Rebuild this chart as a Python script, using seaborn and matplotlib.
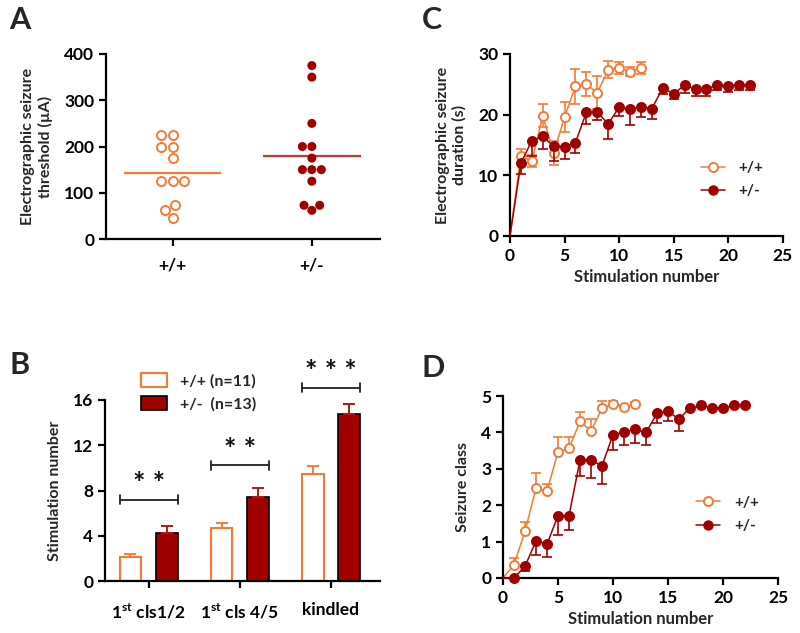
import numpy as np
import pandas as pd
import matplotlib
matplotlib.use("Agg")
import matplotlib.pyplot as plt
from matplotlib.lines import Line2D
from matplotlib.patches import Patch
import seaborn as sns

# --- colours ---
ORANGE = "#F47B35"
DARKRED = "#A00000"
MEANRED = "#C03838"

# --- DATA ---
genotypes = ["+/+", "+/-"]

# A: electrographic seizure threshold per animal (uA)
thr_wt = [225, 225, 200, 200, 175, 125, 125, 125, 73, 62, 45]
thr_het = [375, 350, 250, 200, 200, 175, 150, 150, 150, 125, 73, 73, 62]

# B: stimulation number to reach each milestone (mean, sem)
milestones = ["1$^{\\mathbf{st}}$ cls1/2", "1$^{\\mathbf{st}}$ cls 4/5", "kindled"]
stim_wt = [2.15, 4.7, 9.5]
stim_wt_sem = [0.24, 0.4, 0.65]
stim_het = [4.27, 7.42, 14.73]
stim_het_sem = [0.6, 0.77, 0.94]
sig_labels = ["* *", "* *", "* * *"]

# C: electrographic seizure duration (s) per stimulation
stim_n_wt = np.arange(1, 13)
dur_wt = [13.2, 12.3, 19.8, 13.7, 19.6, 24.7, 25.0, 23.6, 27.4, 27.7, 27.1, 27.7]
dur_wt_sem = [1.2, 1.0, 1.9, 2.0, 2.5, 2.9, 2.0, 2.7, 1.4, 1.0, 0.8, 1.0]
stim_n_het = np.arange(1, 23)
dur_het = [12.0, 15.7, 16.4, 14.8, 14.7, 15.4, 20.4, 20.4, 18.5, 21.2, 20.9,
           21.3, 21.0, 24.4, 23.4, 24.9, 24.2, 24.2, 24.9, 24.8, 24.9, 24.9]
dur_het_sem = [1.8, 2.5, 2.0, 2.4, 2.0, 1.8, 1.9, 1.3, 2.5, 1.4, 2.6,
               1.7, 1.7, 1.0, 0.9, 1.3, 1.1, 1.1, 0.9, 1.0, 0.9, 0.9]

# D: seizure class per stimulation
class_wt = [0.37, 1.28, 2.47, 2.38, 3.47, 3.56, 4.30, 4.04, 4.66, 4.78, 4.69, 4.78]
class_wt_sem = [0.18, 0.25, 0.41, 0.21, 0.41, 0.30, 0.27, 0.32, 0.20, 0.08, 0.06, 0.06]
class_het = [0.0, 0.32, 1.02, 0.93, 1.71, 1.71, 3.24, 3.24, 3.08, 3.94, 4.01,
             4.08, 4.00, 4.52, 4.58, 4.36, 4.68, 4.74, 4.68, 4.68, 4.74, 4.74]
class_het_sem = [0.0, 0.14, 0.38, 0.36, 0.52, 0.39, 0.43, 0.48, 0.51, 0.41, 0.36,
                 0.36, 0.35, 0.26, 0.26, 0.33, 0.05, 0.04, 0.05, 0.05, 0.04, 0.04]

# --- STYLE ---
sns.set_style("ticks")
plt.rcParams.update({
    "font.family": ["Lato", "DejaVu Sans"],
    "font.weight": "bold",
    "axes.labelweight": "bold",
    "axes.labelsize": 11.5,
    "xtick.labelsize": 12.5,
    "ytick.labelsize": 12.5,
    "axes.linewidth": 1.6,
    "xtick.major.width": 1.6,
    "ytick.major.width": 1.6,
    "xtick.major.size": 5,
    "ytick.major.size": 5,
    "xtick.color": "black",
    "ytick.color": "black",
    "axes.edgecolor": "black",
    "mathtext.fontset": "custom",
    "mathtext.rm": "Lato:bold",
    "mathtext.bf": "Lato:bold",
})

fig = plt.figure(figsize=(8, 6.33), dpi=100)
axA = fig.add_axes([0.1325, 0.6224, 0.3425, 0.2923])
axC = fig.add_axes([0.6375, 0.6272, 0.341, 0.2875])
axB = fig.add_axes([0.13125, 0.0821, 0.34375, 0.286])
axD = fig.add_axes([0.62875, 0.0869, 0.34375, 0.2875])

for ax in (axA, axB, axC, axD):
    sns.despine(ax=ax)

# --- A: scatter of thresholds with mean lines ---
df_a = pd.DataFrame({
    "genotype": ["+/+"] * len(thr_wt) + ["+/-"] * len(thr_het),
    "threshold": thr_wt + thr_het,
})
sns.swarmplot(data=df_a, x="genotype", y="threshold", hue="genotype", order=genotypes,
              palette={"+/+": ORANGE, "+/-": DARKRED}, size=6.5, legend=False, ax=axA)
wt_pts = axA.collections[0]
wt_pts.set_facecolor("white")
wt_pts.set_edgecolor(ORANGE)
wt_pts.set_linewidth(1.4)
axA.collections[1].set_edgecolor(DARKRED)

for i, (vals, col) in enumerate([(thr_wt, ORANGE), (thr_het, MEANRED)]):
    axA.hlines(np.mean(vals), i - 0.35, i + 0.35, color=col, lw=1.6, zorder=1)

axA.set_ylim(0, 400)
axA.set_yticks([0, 100, 200, 300, 400])
axA.set_xlim(-0.48, 1.49)
axA.set_xlabel("")
axA.set_ylabel("Electrographic seizure\nthreshold (µA)", labelpad=8)
axA.tick_params(axis="x", pad=8)

# --- B: bars ---
df_b = pd.DataFrame({
    "milestone": milestones * 2,
    "genotype": ["+/+"] * 3 + ["+/-"] * 3,
    "stim": stim_wt + stim_het,
})
sns.barplot(data=df_b, x="milestone", y="stim", hue="genotype", hue_order=genotypes,
            palette={"+/+": "white", "+/-": DARKRED}, width=0.8, gap=0.4,
            errorbar=None, legend=False, ax=axB)
bars = axB.patches
wt_bars, het_bars = bars[:3], bars[3:6]
for p in wt_bars:
    p.set_facecolor("white")
    p.set_edgecolor(ORANGE)
    p.set_linewidth(1.5)
for p in het_bars:
    p.set_facecolor(DARKRED)
    p.set_edgecolor("black")
    p.set_linewidth(1.2)

xs_wt = [p.get_x() + p.get_width() / 2 for p in wt_bars]
xs_het = [p.get_x() + p.get_width() / 2 for p in het_bars]
axB.errorbar(xs_wt, stim_wt, yerr=[np.zeros(3), stim_wt_sem], fmt="none",
             ecolor=ORANGE, elinewidth=1.4, capsize=4, capthick=1.4, zorder=1)
axB.errorbar(xs_het, stim_het, yerr=[np.zeros(3), stim_het_sem], fmt="none",
             ecolor="#B01818", elinewidth=1.4, capsize=4, capthick=1.4, zorder=1)

bracket_y = [7.2, 10.25, 17.1]
for i in range(3):
    x0 = wt_bars[i].get_x()
    x1 = het_bars[i].get_x() + het_bars[i].get_width()
    y = bracket_y[i]
    axB.plot([x0, x1], [y, y], color="#222222", lw=1.3, clip_on=False)
    for xe in (x0, x1):
        axB.plot([xe, xe], [y - 0.4, y + 0.4], color="#222222", lw=1.3, clip_on=False)
    axB.text((x0 + x1) / 2, y + 0.2, sig_labels[i], ha="center", va="bottom",
             fontsize=21, fontweight="bold", color="#111111")

axB.set_ylim(0, 16)
axB.set_yticks([0, 4, 8, 12, 16])
axB.set_xlim(-0.48, 2.54)
axB.set_xlabel("")
axB.set_ylabel("Stimulation number", labelpad=8)
axB.tick_params(axis="x", pad=10)
legB = [Patch(facecolor="white", edgecolor=ORANGE, lw=1.5, label="+/+ (n=11)"),
        Patch(facecolor=DARKRED, edgecolor="black", lw=1.2, label="+/-  (n=13)")]
axB.legend(handles=legB, loc="upper left", bbox_to_anchor=(0.08, 1.23), frameon=False,
           fontsize=11.5, handlelength=1.6, handleheight=1.0, labelspacing=0.45,
           handletextpad=0.8)


# --- C and D: progression curves ---
def progression(ax, x, y, sem, color, filled, err_dir):
    xx = np.r_[0, x]
    yy = np.r_[0, y]
    sns.lineplot(x=xx, y=yy, color=color, lw=1.1, marker="o", markersize=6.5,
                 markevery=slice(1, None),
                 markerfacecolor=color if filled else "white",
                 markeredgecolor=color, markeredgewidth=1.4,
                 errorbar=None, ax=ax, clip_on=False, zorder=3 if filled else 2)
    zeros = np.zeros(len(sem))
    if err_dir == "both":
        yerr = [sem, sem]
    elif err_dir == "up":
        yerr = [zeros, sem]
    else:
        yerr = [sem, zeros]
    ax.errorbar(x, y, yerr=yerr, fmt="none", ecolor=color, elinewidth=1.2,
                capsize=3.5, capthick=1.2, zorder=2 if filled else 1)


progression(axC, stim_n_wt, dur_wt, dur_wt_sem, ORANGE, False, "both")
progression(axC, stim_n_het, dur_het, dur_het_sem, DARKRED, True, "down")
axC.set_xlim(0, 25)
axC.set_ylim(0, 30)
axC.set_xticks([0, 5, 10, 15, 20, 25])
axC.set_yticks([0, 10, 20, 30])
axC.set_xlabel("Stimulation number", fontsize=12)
axC.set_ylabel("Electrographic seizure\nduration (s)", labelpad=8)

progression(axD, stim_n_wt, class_wt, class_wt_sem, ORANGE, False, "up")
progression(axD, stim_n_het, class_het, class_het_sem, DARKRED, True, "down")
axD.set_xlim(0, 25)
axD.set_ylim(0, 5)
axD.set_xticks([0, 5, 10, 15, 20, 25])
axD.set_yticks([0, 1, 2, 3, 4, 5])
axD.set_xlabel("Stimulation number", fontsize=12)
axD.set_ylabel("Seizure class", labelpad=8)

for ax, anchor in ((axC, (0.98, 0.31)), (axD, (0.98, 0.35))):
    handles = [Line2D([], [], color=ORANGE, lw=1.1, marker="o", markersize=6.5,
                      markerfacecolor="white", markeredgecolor=ORANGE, markeredgewidth=1.4),
               Line2D([], [], color=DARKRED, lw=1.1, marker="o", markersize=6.5,
                      markerfacecolor=DARKRED, markeredgecolor=DARKRED)]
    ax.legend(handles, genotypes, loc="center right", bbox_to_anchor=anchor,
              frameon=False, fontsize=11, handlelength=1.6, handletextpad=0.9,
              labelspacing=0.6)

# --- panel letters ---
for letter, (x, y) in {"A": (0.012, 0.99), "C": (0.527, 0.99),
                       "B": (0.012, 0.445), "D": (0.527, 0.44)}.items():
    fig.text(x, y, letter, fontsize=22, fontweight="bold", va="top", ha="left")

fig.savefig("out.png", dpi=100)
